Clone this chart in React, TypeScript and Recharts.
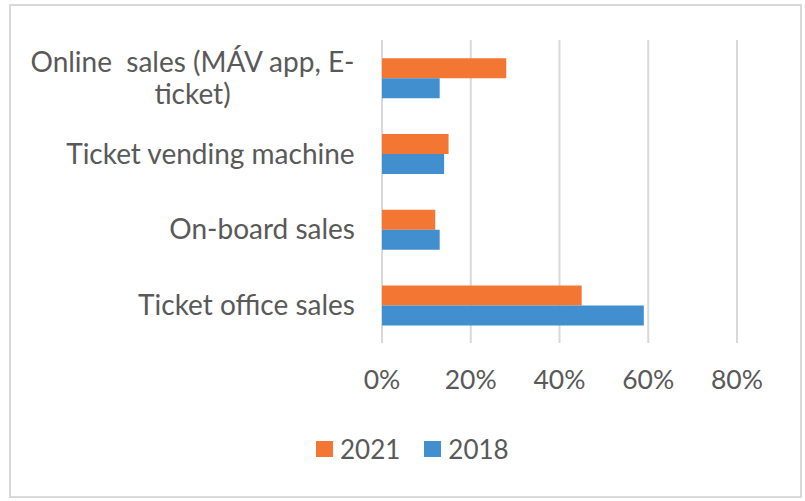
import React from "react";
import { BarChart, Bar, XAxis, YAxis, CartesianGrid, Legend } from "recharts";

const categories = [
  "Online  sales (MÁV app, E-\nticket)",
  "Ticket vending machine",
  "On-board sales",
  "Ticket office sales",
];
const seriesNames = ["2021", "2018"];
const sales2021 = [0.28, 0.15, 0.12, 0.45];
const sales2018 = [0.13, 0.14, 0.13, 0.59];
const xTicks = [0, 0.2, 0.4, 0.6, 0.8];

const ORANGE = "#F47633";
const BLUE = "#428FCF";
const TEXT = "#595959";
const GRID = "#D9D9D9";
const FONT = "Lato, sans-serif";

const data = categories.map((name, i) => ({
  name,
  y2021: sales2021[i],
  y2018: sales2018[i],
}));

let measureCtx: CanvasRenderingContext2D | null = null;
const textWidth = (s: string, size: number) => {
  if (!measureCtx) measureCtx = document.createElement("canvas").getContext("2d");
  if (!measureCtx) return s.length * size * 0.5;
  measureCtx.font = `${size}px Lato`;
  return measureCtx.measureText(s).width;
};

// category labels: right edge fixed, wrapped lines centred on each other
const CategoryTick = (props: any) => {
  const { x, y, payload } = props;
  const lines: string[] = String(payload.value).split("\n");
  const size = 28;
  const lineHeight = 32;
  const maxW = Math.max(...lines.map((l) => textWidth(l, size)));
  const cx = x - maxW / 2;
  const startY = y - ((lines.length - 1) * lineHeight) / 2;
  return (
    <g>
      {lines.map((l, i) => (
        <text
          key={i}
          x={cx}
          y={startY + i * lineHeight}
          dy="0.36em"
          textAnchor="middle"
          fill={TEXT}
          fontSize={size}
          fontFamily={FONT}
          style={{ whiteSpace: "pre" }}
        >
          {l}
        </text>
      ))}
    </g>
  );
};

const LegendContent = (props: any) => {
  const items = [...(props.payload || [])].sort(
    (a: any, b: any) => seriesNames.indexOf(String(a.value)) - seriesNames.indexOf(String(b.value))
  );
  return (
    <div style={{ display: "flex", alignItems: "center", height: 30, fontFamily: FONT, fontSize: 26, color: TEXT }}>
      {items.map((p: any, i: number) => (
        <div key={i} style={{ display: "flex", alignItems: "center", marginRight: 24 }}>
          <span style={{ display: "inline-block", width: 17, height: 16, background: p.color, marginRight: 7 }} />
          <span>{p.value}</span>
        </div>
      ))}
    </div>
  );
};

export default function App() {
  return (
    <div style={{ position: "absolute", left: 0, top: 0, width: 805, height: 501, background: "#fff" }}>
      <div
        style={{
          position: "absolute",
          left: 9,
          top: 4,
          width: 793,
          height: 494,
          border: `2.5px solid ${GRID}`,
          boxSizing: "border-box",
          pointerEvents: "none",
        }}
      />
      <BarChart
        width={805}
        height={501}
        data={data}
        layout="vertical"
        margin={{ top: 40, right: 68, left: 0, bottom: 37 }}
        barCategoryGap="24%"
        barGap={0}
      >
        <CartesianGrid horizontal={false} stroke={GRID} strokeWidth={2} />
        <XAxis
          type="number"
          domain={[0, 0.8]}
          ticks={xTicks}
          tickFormatter={(v: number) => `${Math.round(v * 100)}%`}
          axisLine={false}
          tickLine={false}
          tickMargin={21}
          height={91}
          interval={0}
          tick={{ fill: TEXT, fontSize: 26.5, fontFamily: FONT }}
        />
        <YAxis
          type="category"
          dataKey="name"
          width={382}
          axisLine={false}
          tickLine={false}
          tickMargin={21}
          interval={0}
          tick={<CategoryTick />}
        />
        <Legend
          verticalAlign="bottom"
          content={<LegendContent />}
          wrapperStyle={{ left: 316, width: 260 }}
        />
        <Bar dataKey="y2021" name={seriesNames[0]} fill={ORANGE} isAnimationActive={false} />
        <Bar dataKey="y2018" name={seriesNames[1]} fill={BLUE} isAnimationActive={false} />
      </BarChart>
    </div>
  );
}
